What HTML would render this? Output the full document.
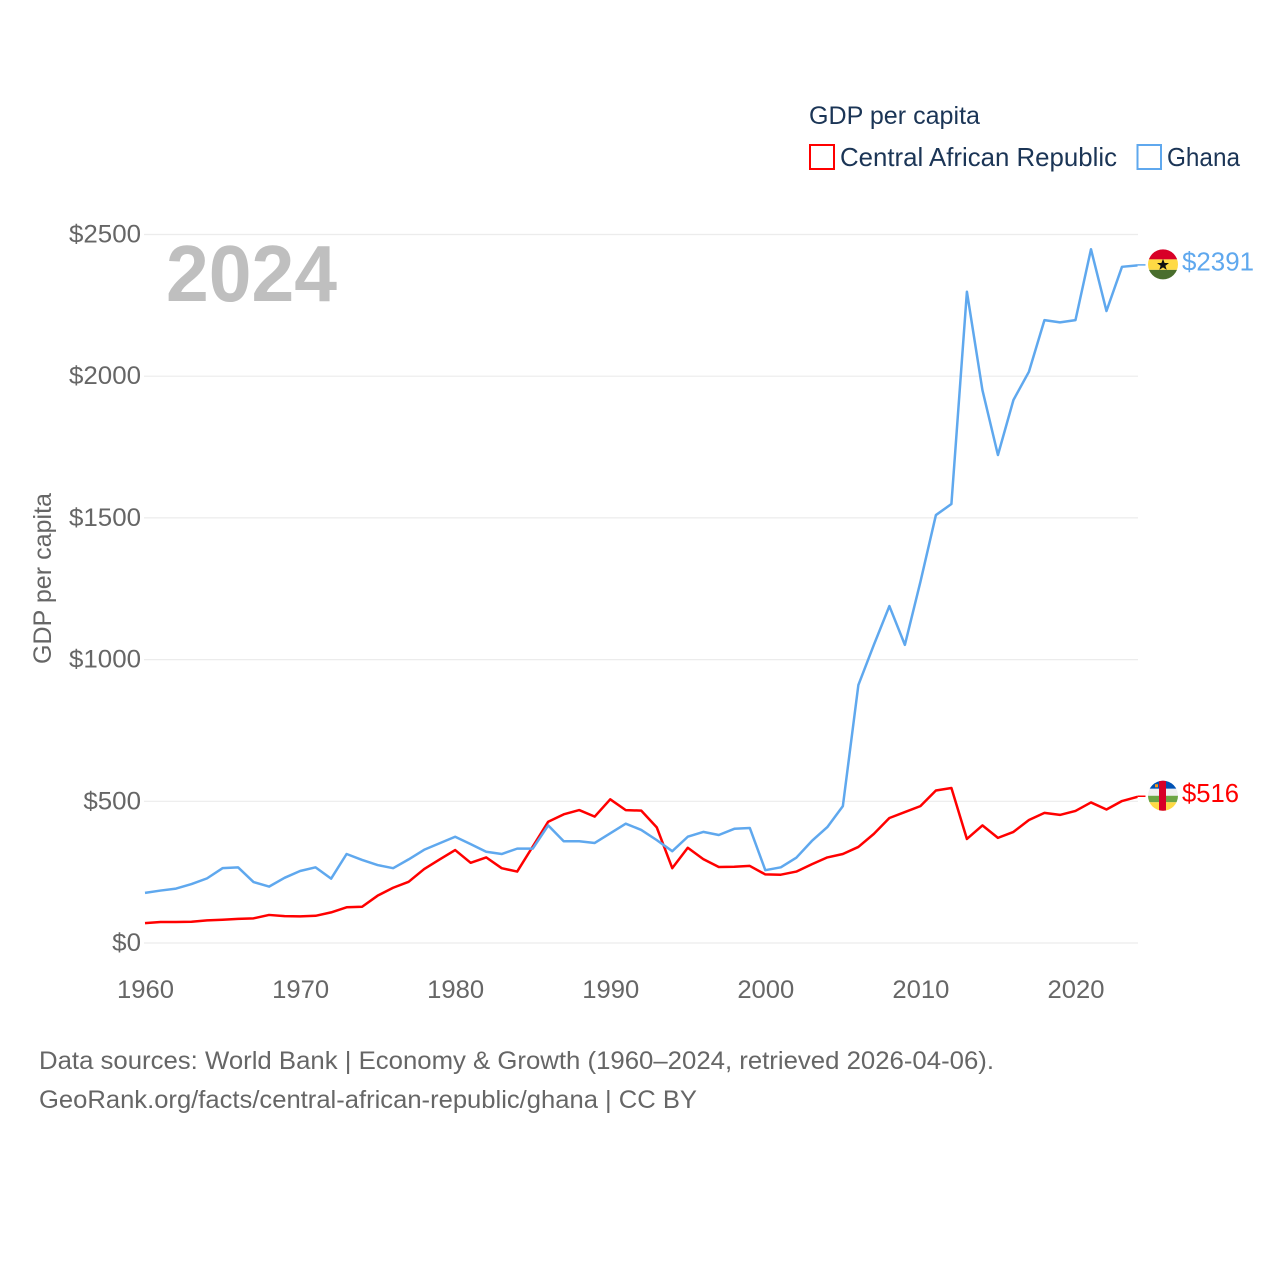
<!DOCTYPE html>
<html lang="en">
<head>
<meta charset="utf-8">
<title>GDP per capita: Central African Republic and Ghana</title>
<style>
html,body{margin:0;padding:0;background:#fff;width:1280px;height:1280px;overflow:hidden}
svg{display:block;font-family:"Liberation Sans",sans-serif}
</style>
</head>
<body>
<svg id="chart" width="1280" height="1280" viewBox="0 0 1280 1280" xmlns="http://www.w3.org/2000/svg">
  <defs>
    <clipPath id="flag-clip"><circle cx="0" cy="0" r="15"/></clipPath>
  </defs>

  <g id="grid"></g>
  <g id="y-ticks"></g>
  <g id="x-ticks"></g>

  <text x="166" y="301" font-size="80" font-weight="700" fill="#bfbfbf" textLength="171" lengthAdjust="spacingAndGlyphs">2024</text>

  <text transform="translate(51,664) rotate(-90)" font-size="25" fill="#666" textLength="171" lengthAdjust="spacingAndGlyphs">GDP per capita</text>

  <polyline id="line-car" fill="none" stroke="#ff0000" stroke-width="2.5" stroke-linejoin="round"></polyline>
  <polyline id="line-gha" fill="none" stroke="#5fa8ee" stroke-width="2.5" stroke-linejoin="round"></polyline>

  <line id="leader-car" stroke="#ff0000" stroke-width="1.5"></line>
  <line id="leader-gha" stroke="#5fa8ee" stroke-width="1.5"></line>

  <g id="flag-gha" clip-path="url(#flag-clip)">
    <rect x="-16" y="-16" width="32" height="11" fill="#d80027"/>
    <rect x="-16" y="-5" width="32" height="10.5" fill="#ffda44"/>
    <rect x="-16" y="5.5" width="32" height="10.5" fill="#496e2d"/>
    <polygon points="0,-5.500 1.600,-1.400 6,-1.400 2.400,1.300 3.700,5.500 0,3 -3.700,5.500 -2.400,1.300 -6,-1.400 -1.600,-1.400" fill="#111"/>
  </g>
  <g id="flag-car" clip-path="url(#flag-clip)">
    <rect x="-16" y="-16" width="32" height="9" fill="#0052b4"/>
    <rect x="-16" y="-7" width="32" height="7" fill="#f0f0f0"/>
    <rect x="-16" y="0" width="32" height="6.5" fill="#6da544"/>
    <rect x="-16" y="6.5" width="32" height="9.5" fill="#ffda44"/>
    <rect x="-4" y="-16" width="7" height="32" fill="#d80027"/>
    <rect x="-8" y="-11.500" width="3" height="3" fill="#ff9811"/>
  </g>

  <text id="value-gha" x="1182" font-size="26" fill="#5fa8ee" textLength="72" lengthAdjust="spacingAndGlyphs"></text>
  <text id="value-car" x="1182" font-size="26" fill="#ff0000" textLength="57" lengthAdjust="spacingAndGlyphs"></text>

  <g>
    <text x="809" y="124" font-size="25" fill="#1b3556" textLength="171" lengthAdjust="spacingAndGlyphs">GDP per capita</text>
    <rect x="810" y="145" width="24" height="24" fill="#fff" stroke="#ff0000" stroke-width="2"></rect>
    <text x="840" y="166" font-size="26" fill="#1b3556" textLength="277" lengthAdjust="spacingAndGlyphs">Central African Republic</text>
    <rect x="1137.500" y="145" width="23.500" height="24" fill="#fff" stroke="#5fa8ee" stroke-width="2"></rect>
    <text x="1167" y="166" font-size="26" fill="#1b3556" textLength="73" lengthAdjust="spacingAndGlyphs">Ghana</text>
  </g>

  <text x="39" y="1069" font-size="25" fill="#666" textLength="955" lengthAdjust="spacingAndGlyphs">Data sources: World Bank | Economy &amp; Growth (1960–2024, retrieved 2026-04-06).</text>
  <text x="39" y="1108" font-size="25" fill="#666" textLength="658" lengthAdjust="spacingAndGlyphs">GeoRank.org/facts/central-african-republic/ghana | CC BY</text>
</svg>

<script>
const startYear = 1960;
const endYear = 2024;
const yTickValues = [0, 500, 1000, 1500, 2000, 2500];
const xTickYears = [1960, 1970, 1980, 1990, 2000, 2010, 2020];
const ghanaValues = [177,185,192,208,228,264,267,215,199,230,254,267,227,314,293,275,264,295,329,352,375,349,322,314,333,333,415,359,359,353,387,421,399,363,324,375,392,381,403,406,257,267,301,360,409,483,910,1052,1189,1052,1274,1510,1549,2298,1951,1722,1916,2016,2198,2190,2198,2448,2230,2386,2391];
const carValues = [70,74,74,75,80,82,85,87,99,95,94,96,108,126,128,167,195,216,261,295,328,283,302,264,252,340,428,454,469,446,507,469,467,408,264,336,296,268,269,272,242,241,252,278,302,314,339,385,441,462,483,538,547,367,415,371,392,434,459,452,466,496,471,501,516];

const NS = 'http://www.w3.org/2000/svg';
function xScale(year) { return 145 + (year - startYear) * (1137.5 - 145) / (endYear - startYear); }
function yScale(value) { return 943 - value * (943 - 234.5) / 2500; }
function seriesPoints(values) {
  return values.map(function (v, i) { return xScale(startYear + i).toFixed(2) + ',' + yScale(v).toFixed(2); }).join(' ');
}

const gridGroup = document.getElementById('grid');
const yTickGroup = document.getElementById('y-ticks');
const xTickGroup = document.getElementById('x-ticks');

yTickValues.forEach(function (v) {
  const line = document.createElementNS(NS, 'line');
  
  
  line.setAttribute('x1', 144);
  line.setAttribute('x2', 1138);
  line.setAttribute('y1', yScale(v));
  line.setAttribute('y2', yScale(v));
  line.setAttribute('stroke', '#ececec');
  line.setAttribute('stroke-width', 1.2);
  gridGroup.appendChild(line);

  const label = document.createElementNS(NS, 'text');
  
  
  label.setAttribute('x', 141);
  label.setAttribute('y', yScale(v) + 8);
  label.setAttribute('text-anchor', 'end');
  label.setAttribute('font-size', 25);
  label.setAttribute('fill', '#666');
  label.setAttribute('textLength', ('$' + v).length * 14.4);
  label.setAttribute('lengthAdjust', 'spacingAndGlyphs');
  label.textContent = '$' + v;
  yTickGroup.appendChild(label);
});

xTickYears.forEach(function (yr) {
  const label = document.createElementNS(NS, 'text');
  
  
  label.setAttribute('x', xScale(yr) + 0.5);
  label.setAttribute('y', 998);
  label.setAttribute('text-anchor', 'middle');
  label.setAttribute('font-size', 25);
  label.setAttribute('fill', '#666');
  label.setAttribute('textLength', 57);
  label.setAttribute('lengthAdjust', 'spacingAndGlyphs');
  label.textContent = String(yr);
  xTickGroup.appendChild(label);
});

document.getElementById('line-gha').setAttribute('points', seriesPoints(ghanaValues));
document.getElementById('line-car').setAttribute('points', seriesPoints(carValues));

function placeEnd(values, leaderId, flagId, labelId) {
  const last = values[values.length - 1];
  const yPos = yScale(last);
  const leader = document.getElementById(leaderId);
  leader.setAttribute('x1', xScale(endYear));
  leader.setAttribute('x2', xScale(endYear) + 8);
  leader.setAttribute('y1', yPos - 0.5);
  leader.setAttribute('y2', yPos - 0.5);
  document.getElementById(flagId).setAttribute('transform', 'translate(' + (xScale(endYear) + 25.5) + ',' + (yPos - 1) + ')');
  const label = document.getElementById(labelId);
  label.setAttribute('y', yPos + 5);
  label.textContent = '$' + last;
}
placeEnd(ghanaValues, 'leader-gha', 'flag-gha', 'value-gha');
placeEnd(carValues, 'leader-car', 'flag-car', 'value-car');
</script>
</body>
</html>
